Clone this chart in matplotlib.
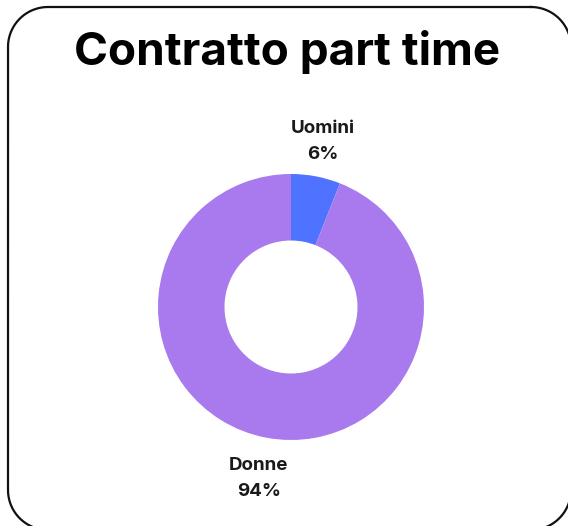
import numpy as np
import matplotlib
matplotlib.use("Agg")
import matplotlib.pyplot as plt

labels = ['Uomini', 'Donne']
values = [6, 94]
colors = ['#5073FF', '#A87AEE']

W, H = 568, 526
fig = plt.figure(figsize=(W / 100, H / 100), dpi=100)
fig.patch.set_facecolor('white')

# background axes in pixel units (y down) for the card and the title
bg = fig.add_axes([0, 0, 1, 1])
bg.set_xlim(0, W)
bg.set_ylim(H, 0)
bg.axis('off')


def rounded_rect(left, top, right, bottom, r, n=40):
    xs, ys = [], []
    corners = [(right - r, top + r, -90, 0), (right - r, bottom - r, 0, 90),
               (left + r, bottom - r, 90, 180), (left + r, top + r, 180, 270)]
    for ccx, ccy, a0, a1 in corners:
        t = np.radians(np.linspace(a0, a1, n))
        xs.extend(ccx + r * np.cos(t))
        ys.extend(ccy + r * np.sin(t))
    xs.append(xs[0])
    ys.append(ys[0])
    return xs, ys


bx, by = rounded_rect(8, 7, 571, 530, 40)
bg.plot(bx, by, color='#111111', lw=1.6, solid_joinstyle='round', clip_on=False)

bg.text(287, 65, 'Contratto part time', ha='center', va='baseline',
        fontsize=33, fontweight='bold', family='Inter', color='black')

# donut
cx, cy, rad = 291, 307, 133
ax = fig.add_axes([(cx - rad) / W, (H - cy - rad) / H, 2 * rad / W, 2 * rad / H])
texts = [f'{l}\n{v}%' for l, v in zip(labels, values)]
wedges, lbls = ax.pie(values, labels=texts, colors=colors, startangle=90,
                      counterclock=False, radius=1, labeldistance=1.29,
                      wedgeprops=dict(width=0.5, linewidth=0),
                      textprops=dict(fontsize=13.5, fontweight='bold', family='Inter',
                                     color='#1a1a1a', ha='center', va='center',
                                     linespacing=1.65))
# nudge labels a little lower
for t in lbls:
    x, y = t.get_position()
    t.set_position((x, y - 0.024))
ax.set_xlim(-1, 1)
ax.set_ylim(-1, 1)
ax.set_aspect('equal')
ax.axis('off')

fig.savefig('out.png', dpi=100, facecolor='white')
